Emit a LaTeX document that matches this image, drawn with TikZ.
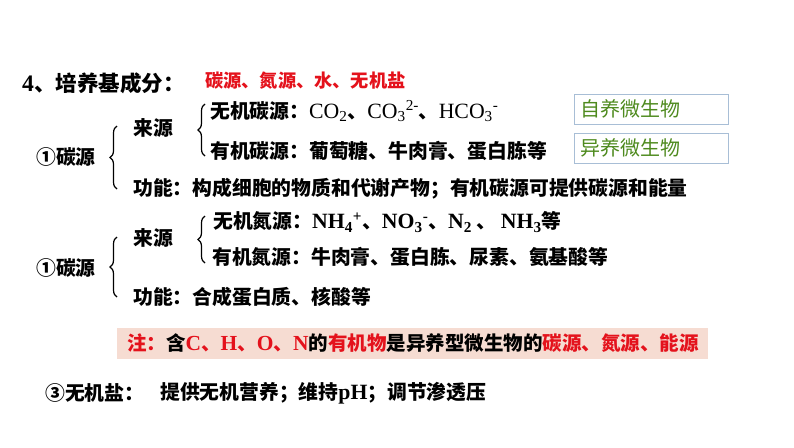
\documentclass[tikz,border=0pt]{standalone}
\usepackage{fontspec}
\setmainfont{Noto Sans CJK SC}
\newfontfamily\lat[Scale=1.1]{Liberation Serif}
\usetikzlibrary{decorations.pathreplacing}
\definecolor{zhred}{RGB}{228,18,28}
\definecolor{zhgreen}{RGB}{78,138,30}
\definecolor{boxline}{RGB}{168,190,214}
\definecolor{notefill}{RGB}{246,220,210}
\begin{document}
\begin{tikzpicture}[x=1pt,y=-1pt,
    % Styles
    txt/.style={% For plain lines of text
        anchor=west,
        inner sep=0pt,
        font=\fontsize{19.8}{23}\selectfont\bfseries,
        },
    title/.style={% For the heading
        txt,
        font=\fontsize{21.5}{25}\selectfont\bfseries,
        },
    redtxt/.style={% For red words
        txt,
        text=zhred,
        font=\fontsize{18.2}{22}\selectfont\bfseries,
        },
    gbox/.style={% For the green answer boxes
        rectangle,
        draw=boxline,
        line width=0.9pt,
        anchor=west,
        minimum width=154pt,
        minimum height=30pt,
        inner xsep=6pt,
        text width=142pt,
        align=left,
        text=zhgreen,
        font=\fontsize{20}{24}\selectfont,
        },
    notebox/.style={% For the note
        rectangle,
        fill=notefill,
        anchor=west,
        minimum width=591pt,
        minimum height=31pt,
        inner xsep=10pt,
        text width=571pt,
        align=left,
        font=\fontsize{19.5}{23}\selectfont\bfseries,
        },
    brc/.style={% Braces
        decorate,
        decoration={brace, amplitude=7pt},
        line width=1.2pt,
        },
    ]

    \useasboundingbox (0,0) rectangle (794,447);

    % Heading
    \node[title] (head) at (22,83) {{\lat 4}、培养基成分：};
    \node[redtxt] (parts) at (205,81) {碳源、氮源、水、无机盐};

    % Carbon source
    \node[txt] (csrc) at (36,157) {①碳源};
    \node[txt] (cfrom) at (133,128) {来源};
    \node[txt] (cinorg) at (210,111) {无机碳源：{\lat\mdseries CO\textsubscript{2}}、{\lat\mdseries CO\textsubscript{3}\textsuperscript{2-}}、{\lat\mdseries HCO\textsubscript{3}\textsuperscript{-}}};
    \node[txt] (corg) at (210,151) {有机碳源：葡萄糖、牛肉膏、蛋白胨等};
    \node[txt] (cuse) at (133,189) {功能：构成细胞的物质和代谢产物；有机碳源可提供碳源和能量};
    \node[gbox] (auto) at (574,109) {自养微生物};
    \node[gbox] (hetero) at (574,148) {异养微生物};

    % Nitrogen source
    \node[txt] (nsrc) at (36,268) {①碳源};
    \node[txt] (nfrom) at (133,238) {来源};
    \node[txt] (ninorg) at (213,222) {无机氮源：{\lat NH\textsubscript{4}\textsuperscript{+}}、{\lat NO\textsubscript{3}\textsuperscript{-}}、{\lat N\textsubscript{2}} 、 {\lat NH\textsubscript{3}}等};
    \node[txt] (norg) at (212,257) {有机氮源：牛肉膏、蛋白胨、尿素、氨基酸等};
    \node[txt] (nuse) at (133,297) {功能：合成蛋白质、核酸等};

    % Note
    \node[notebox] (note) at (117,343) {\textcolor{zhred}{注：}含\textcolor{zhred}{{\lat C}、{\lat H}、{\lat O}、{\lat N}}的\textcolor{zhred}{有机物}是异养型微生物的\textcolor{zhred}{碳源、氮源、能源}};

    % Salt
    \node[txt] (salt) at (45,393) {③无机盐：};
    \node[txt] (saltuse) at (160,393) {提供无机营养；维持{\lat pH}；调节渗透压};

    % Braces
    \coordinate (cb1) at (117,189);
    \coordinate (ct1) at (117,126);
    \coordinate (cb2) at (205,156);
    \coordinate (ct2) at (205,104);
    \coordinate (nb1) at (117,297);
    \coordinate (nt1) at (117,237);
    \coordinate (nb2) at (205,263);
    \coordinate (nt2) at (205,216);
    \draw[brc] (cb1) -- (ct1);
    \draw[brc] (cb2) -- (ct2);
    \draw[brc] (nb1) -- (nt1);
    \draw[brc] (nb2) -- (nt2);

\end{tikzpicture}
\end{document}
